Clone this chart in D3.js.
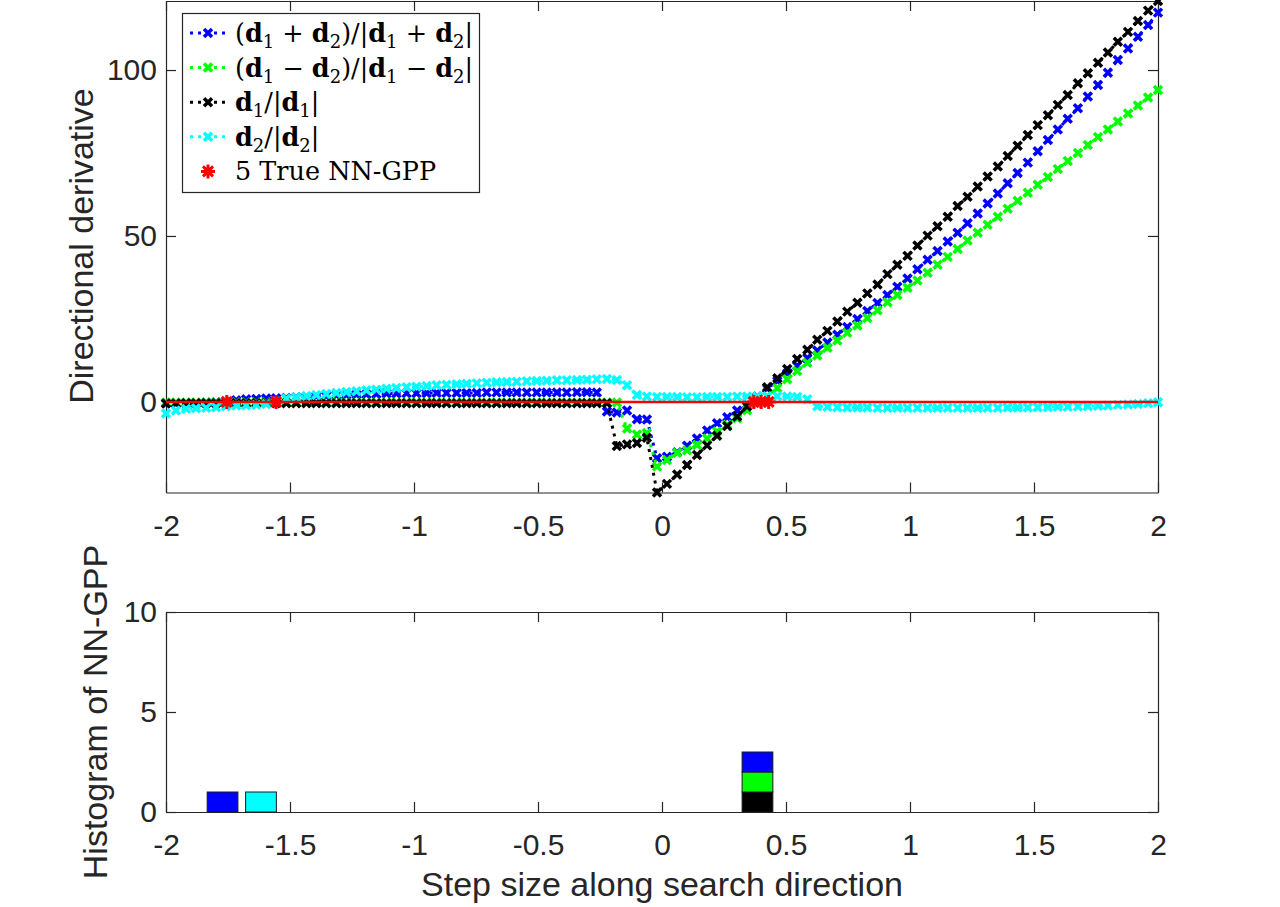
<!DOCTYPE html>
<html>
<head>
<meta charset="utf-8">
<script src="https://cdn.jsdelivr.net/npm/d3@7"></script>
<style>
  body { margin: 0; background: #fff; }
  .axis text { font-family: "Liberation Sans", Arial, sans-serif; font-size: 30px; fill: #262626; }
  .axis path, .axis line { stroke: #262626; stroke-width: 1.2; }
  .label { font-family: "Liberation Sans", Arial, sans-serif; font-size: 34px; fill: #262626; }
  .legend text { font-family: "DejaVu Serif", "Liberation Serif", serif; font-size: 25.5px; fill: #000; }
</style>
</head>
<body>
<svg id="chart" width="1280" height="907"></svg>
<script>
// step sizes (sample grid, 100 points from -2 to 2)
var steps = [
  -2.000,-1.960,-1.919,-1.879,-1.838,-1.798,-1.758,-1.717,-1.677,-1.636,
  -1.596,-1.556,-1.515,-1.475,-1.434,-1.394,-1.354,-1.313,-1.273,-1.232,
  -1.192,-1.152,-1.111,-1.071,-1.030,-0.990,-0.949,-0.909,-0.869,-0.828,
  -0.788,-0.747,-0.707,-0.667,-0.626,-0.586,-0.545,-0.505,-0.465,-0.424,
  -0.384,-0.343,-0.303,-0.263,-0.222,-0.182,-0.141,-0.101,-0.061,-0.020,
   0.020, 0.061, 0.101, 0.141, 0.182, 0.222, 0.263, 0.303, 0.343, 0.384,
   0.424, 0.465, 0.505, 0.545, 0.586, 0.626, 0.667, 0.707, 0.747, 0.788,
   0.828, 0.869, 0.909, 0.949, 0.990, 1.030, 1.071, 1.111, 1.152, 1.192,
   1.232, 1.273, 1.313, 1.354, 1.394, 1.434, 1.475, 1.515, 1.556, 1.596,
   1.636, 1.677, 1.717, 1.758, 1.798, 1.838, 1.879, 1.919, 1.960, 2.000
];

// (d1+d2)/|d1+d2|
var sumDir = [
  -0.4,-0.4,-0.3,-0.3,-0.2,-0.1,0.0,0.5,0.8,0.9,
  1.0,1.1,1.2,1.4,1.5,1.7,1.8,2.0,2.1,2.2,
  2.3,2.4,2.5,2.5,2.6,2.6,2.6,2.7,2.7,2.7,
  2.7,2.7,2.8,2.8,2.8,2.8,2.8,2.8,2.8,2.8,
  2.8,2.9,2.9,2.8,-2.9,-3.2,-2.6,-5.2,-5.3,-17.0,
  -16.5,-15.2,-13.2,-11.0,-8.6,-6.4,-4.6,-2.6,-0.7,1.6,
  4.0,6.3,8.6,10.9,13.2,15.5,17.9,20.2,22.6,25.0,
  27.4,29.8,32.2,34.7,37.2,40.0,42.8,45.5,48.3,51.0,
  53.8,56.8,59.8,62.8,65.9,69.0,72.1,75.5,78.9,82.1,
  85.3,88.5,92.0,95.5,99.2,103.0,106.5,110.0,113.6,117.3
];

// (d1-d2)/|d1-d2|
var diffDir = [
  -0.2,-0.2,-0.2,-0.2,-0.2,-0.2,-0.2,-0.2,-0.2,-0.2,
  -0.2,-0.2,-0.2,-0.2,-0.2,-0.2,-0.2,-0.2,-0.2,-0.2,
  -0.2,-0.2,-0.2,-0.2,-0.2,-0.2,-0.2,-0.2,-0.2,-0.2,
  -0.2,-0.2,-0.2,-0.2,-0.2,-0.2,-0.2,-0.2,-0.2,-0.2,
  -0.2,-0.2,-0.2,-0.2,-0.2,-0.2,-8.0,-9.8,-9.4,-19.5,
  -17.5,-15.3,-14.6,-13.0,-11.0,-8.9,-6.9,-4.9,-2.5,-0.5,
  1.7,4.2,6.8,9.3,11.8,14.0,16.3,18.5,20.8,23.0,
  25.3,27.6,30.0,32.2,34.4,36.6,38.9,41.3,43.7,46.1,
  48.6,51.0,53.4,55.8,58.2,60.6,63.0,65.4,67.8,70.2,
  72.6,75.0,77.4,79.8,82.1,84.5,86.9,89.3,91.7,94.0
];

// d1/|d1|
var d1Dir = [
  -0.5,-0.5,-0.4,-0.4,-0.4,-0.4,-0.4,-0.4,-0.4,-0.4,
  -0.4,-0.4,-0.4,-0.4,-0.4,-0.4,-0.4,-0.4,-0.4,-0.4,
  -0.4,-0.4,-0.4,-0.4,-0.4,-0.4,-0.4,-0.4,-0.4,-0.4,
  -0.4,-0.4,-0.4,-0.4,-0.4,-0.4,-0.4,-0.4,-0.4,-0.4,
  -0.4,-0.4,-0.4,-0.4,-0.4,-13.3,-12.8,-12.4,-10.8,-27.3,
  -24.7,-21.9,-19.0,-16.0,-13.1,-10.2,-7.3,-4.4,-1.4,1.5,
  4.4,7.1,9.9,12.9,15.7,18.7,21.4,24.2,27.2,29.9,
  32.7,35.4,38.5,41.3,44.0,47.1,50.1,52.9,55.8,59.0,
  61.8,64.9,67.9,70.9,74.1,77.2,80.4,83.4,86.4,89.5,
  92.5,96.0,99.0,102.2,105.3,108.5,111.5,114.8,117.9,120.8
];

// d2/|d2|
var d2Dir = [
  -3.5,-2.6,-2.1,-1.9,-1.8,-1.6,-1.3,-1.1,-1.0,-0.9,
  -0.6,0.1,1.0,1.4,1.8,2.1,2.4,2.7,3.0,3.2,
  3.5,3.7,4.0,4.2,4.4,4.6,4.8,5.0,5.2,5.3,
  5.5,5.6,5.8,5.9,6.0,6.1,6.2,6.3,6.4,6.5,
  6.5,6.6,6.7,6.8,6.9,6.6,5.0,2.1,1.6,1.5,
  1.5,1.5,1.4,1.4,1.5,1.5,1.5,1.6,1.6,1.6,
  1.7,1.7,1.6,1.5,0.8,-1.3,-1.5,-1.6,-1.7,-1.7,
  -1.7,-1.8,-1.8,-1.8,-1.8,-1.8,-1.8,-1.8,-1.8,-1.8,
  -1.8,-1.8,-1.8,-1.8,-1.7,-1.7,-1.7,-1.6,-1.6,-1.5,
  -1.5,-1.4,-1.3,-1.2,-1.1,-0.9,-0.8,-0.6,-0.4,-0.1
];

// true NN-GPP locations
var gppX = [-1.755, -1.556, 0.370, 0.400, 0.430];
var gppY = [0, 0, 0, 0, 0];

// histogram of NN-GPP found along each direction
var histCenters = [-1.772, -1.617, 0.385];
var histBlack = [0, 0, 1];
var histGreen = [0, 0, 1];
var histBlue  = [1, 0, 1];
var histCyan  = [0, 1, 0];

var xTicks = [-2, -1.5, -1, -0.5, 0, 0.5, 1, 1.5, 2];
var yTicksTop = [0, 50, 100];
var yTicksBottom = [0, 5, 10];

var seriesLabels = [
  [["(", ""], ["d", "b"], ["1", "s"], [" + ", ""], ["d", "b"], ["2", "s"], [")/|", ""], ["d", "b"], ["1", "s"], [" + ", ""], ["d", "b"], ["2", "s"], ["|", ""]],
  [["(", ""], ["d", "b"], ["1", "s"], [" \u2212 ", ""], ["d", "b"], ["2", "s"], [")/|", ""], ["d", "b"], ["1", "s"], [" \u2212 ", ""], ["d", "b"], ["2", "s"], ["|", ""]],
  [["d", "b"], ["1", "s"], ["/|", ""], ["d", "b"], ["1", "s"], ["|", ""]],
  [["d", "b"], ["2", "s"], ["/|", ""], ["d", "b"], ["2", "s"], ["|", ""]],
  [["5 True NN-GPP", ""]]
];

var svg = d3.select("#chart");

// axes boxes
var topBox = { left: 166, right: 1158, top: 1, bottom: 492.5 };
var botBox = { left: 166, right: 1158, top: 612, bottom: 812 };

var x = d3.scaleLinear().domain([-2, 2]).range([topBox.left, topBox.right]);
var allVals = sumDir.concat(diffDir, d1Dir, d2Dir);
var yTop = d3.scaleLinear().domain(d3.extent(allVals)).range([topBox.bottom, topBox.top]);
var yBot = d3.scaleLinear().domain([0, 10]).range([botBox.bottom, botBox.top]);

var fmt = function (d) { return String(d); };

function drawFrame(box, y, yTicks) {
    svg.append("g").attr("class", "axis")
        .attr("transform", "translate(0," + box.bottom + ")")
        .call(d3.axisBottom(x).tickValues(xTicks).tickFormat(fmt)
            .tickSizeInner(-10).tickSizeOuter(0).tickPadding(22));
    svg.append("g").attr("class", "axis")
        .attr("transform", "translate(0," + box.top + ")")
        .call(d3.axisTop(x).tickValues(xTicks).tickFormat("")
            .tickSizeInner(-10).tickSizeOuter(0));
    svg.append("g").attr("class", "axis")
        .attr("transform", "translate(" + box.left + ",0)")
        .call(d3.axisLeft(y).tickValues(yTicks).tickFormat(fmt)
            .tickSizeInner(-10).tickSizeOuter(0).tickPadding(9));
    svg.append("g").attr("class", "axis")
        .attr("transform", "translate(" + box.right + ",0)")
        .call(d3.axisRight(y).tickValues(yTicks).tickFormat("")
            .tickSizeInner(-10).tickSizeOuter(0));
}

drawFrame(topBox, yTop, yTicksTop);
drawFrame(botBox, yBot, yTicksBottom);

// markers
var xMark = "M-4,-4L4,4M-4,4L4,-4";
var starMark = "M-7,0H7M0,-7V7M-5,-5L5,5M-5,5L5,-5";

var series = [
    { vals: sumDir, color: "#0000ff" },
    { vals: diffDir, color: "#00ff00" },
    { vals: d1Dir, color: "#000000" },
    { vals: d2Dir, color: "#00ffff" }
];

var line = d3.line()
    .x(function (d, i) { return x(steps[i]); })
    .y(function (d) { return yTop(d); });

series.forEach(function (s) {
    var g = svg.append("g");
    g.append("path")
        .datum(s.vals)
        .attr("d", line)
        .attr("fill", "none")
        .attr("stroke", s.color)
        .attr("stroke-width", 3)
        .attr("stroke-dasharray", "3 5");
    g.selectAll("path.mk")
        .data(s.vals)
        .enter()
        .append("path")
        .attr("class", "mk")
        .attr("d", xMark)
        .attr("transform", function (d, i) { return "translate(" + x(steps[i]) + "," + yTop(d) + ")"; })
        .attr("fill", "none")
        .attr("stroke", s.color)
        .attr("stroke-width", 3.5);
});

// zero line
svg.append("line")
    .attr("x1", x(-2)).attr("x2", x(2))
    .attr("y1", yTop(0)).attr("y2", yTop(0))
    .attr("stroke", "#ff0000")
    .attr("stroke-width", 2.5);

// true NN-GPP points
svg.append("g")
    .selectAll("path")
    .data(gppX)
    .enter()
    .append("path")
    .attr("d", starMark)
    .attr("transform", function (d, i) { return "translate(" + x(d) + "," + yTop(gppY[i]) + ")"; })
    .attr("fill", "none")
    .attr("stroke", "#ff0000")
    .attr("stroke-width", 3);

// histogram (stacked)
var barWidth = 0.124;
var histRows = histCenters.map(function (c, i) {
    return { center: c, black: histBlack[i], green: histGreen[i], blue: histBlue[i], cyan: histCyan[i] };
});
var histColors = { black: "#000000", green: "#00ff00", blue: "#0000ff", cyan: "#00ffff" };
var layers = d3.stack().keys(["black", "green", "blue", "cyan"])(histRows);

layers.forEach(function (layer) {
    svg.append("g")
        .selectAll("rect")
        .data(layer.filter(function (d) { return d[1] > d[0]; }))
        .enter()
        .append("rect")
        .attr("x", function (d) { return x(d.data.center - barWidth / 2); })
        .attr("width", function (d) { return x(d.data.center + barWidth / 2) - x(d.data.center - barWidth / 2); })
        .attr("y", function (d) { return yBot(d[1]); })
        .attr("height", function (d) { return yBot(d[0]) - yBot(d[1]); })
        .attr("fill", histColors[layer.key])
        .attr("stroke", "#1a1a1a")
        .attr("stroke-width", 1);
});

// axis labels
svg.append("text").attr("class", "label")
    .attr("transform", "translate(93,246) rotate(-90)")
    .attr("text-anchor", "middle")
    .text("Directional derivative");

svg.append("text").attr("class", "label")
    .attr("transform", "translate(107,712) rotate(-90)")
    .attr("text-anchor", "middle")
    .text("Histogram of NN-GPP");

svg.append("text").attr("class", "label")
    .attr("x", 662).attr("y", 896)
    .attr("text-anchor", "middle")
    .text("Step size along search direction");

// legend
var legend = svg.append("g").attr("class", "legend");
legend.append("rect")
    .attr("x", 182.5).attr("y", 13.5)
    .attr("width", 297).attr("height", 179)
    .attr("fill", "#fff")
    .attr("stroke", "#262626")
    .attr("stroke-width", 1.2);

var legendColors = ["#0000ff", "#00ff00", "#000000", "#00ffff", "#ff0000"];

seriesLabels.forEach(function (segs, i) {
    var cy = 33 + i * 34.6;
    if (i < 4) {
        legend.append("line")
            .attr("x1", 190).attr("x2", 226)
            .attr("y1", cy).attr("y2", cy)
            .attr("stroke", legendColors[i])
            .attr("stroke-width", 3)
            .attr("stroke-dasharray", "3 5");
        legend.append("path")
            .attr("d", xMark)
            .attr("transform", "translate(208," + cy + ")")
            .attr("fill", "none")
            .attr("stroke", legendColors[i])
            .attr("stroke-width", 3.5);
    } else {
        legend.append("path")
            .attr("d", starMark)
            .attr("transform", "translate(208," + cy + ")")
            .attr("fill", "none")
            .attr("stroke", legendColors[i])
            .attr("stroke-width", 3);
    }
    var t = legend.append("text").attr("x", 235).attr("y", cy + 9);
    var shifted = false;
    segs.forEach(function (sg) {
        var sp = t.append("tspan").text(sg[0]);
        if (sg[1] === "b") sp.attr("font-weight", "bold");
        if (sg[1] === "s") {
            sp.attr("font-size", "18px");
            if (!shifted) { sp.attr("dy", 6); shifted = true; }
        } else if (shifted) {
            sp.attr("dy", -6);
            shifted = false;
        }
    });
});
</script>
</body>
</html>
